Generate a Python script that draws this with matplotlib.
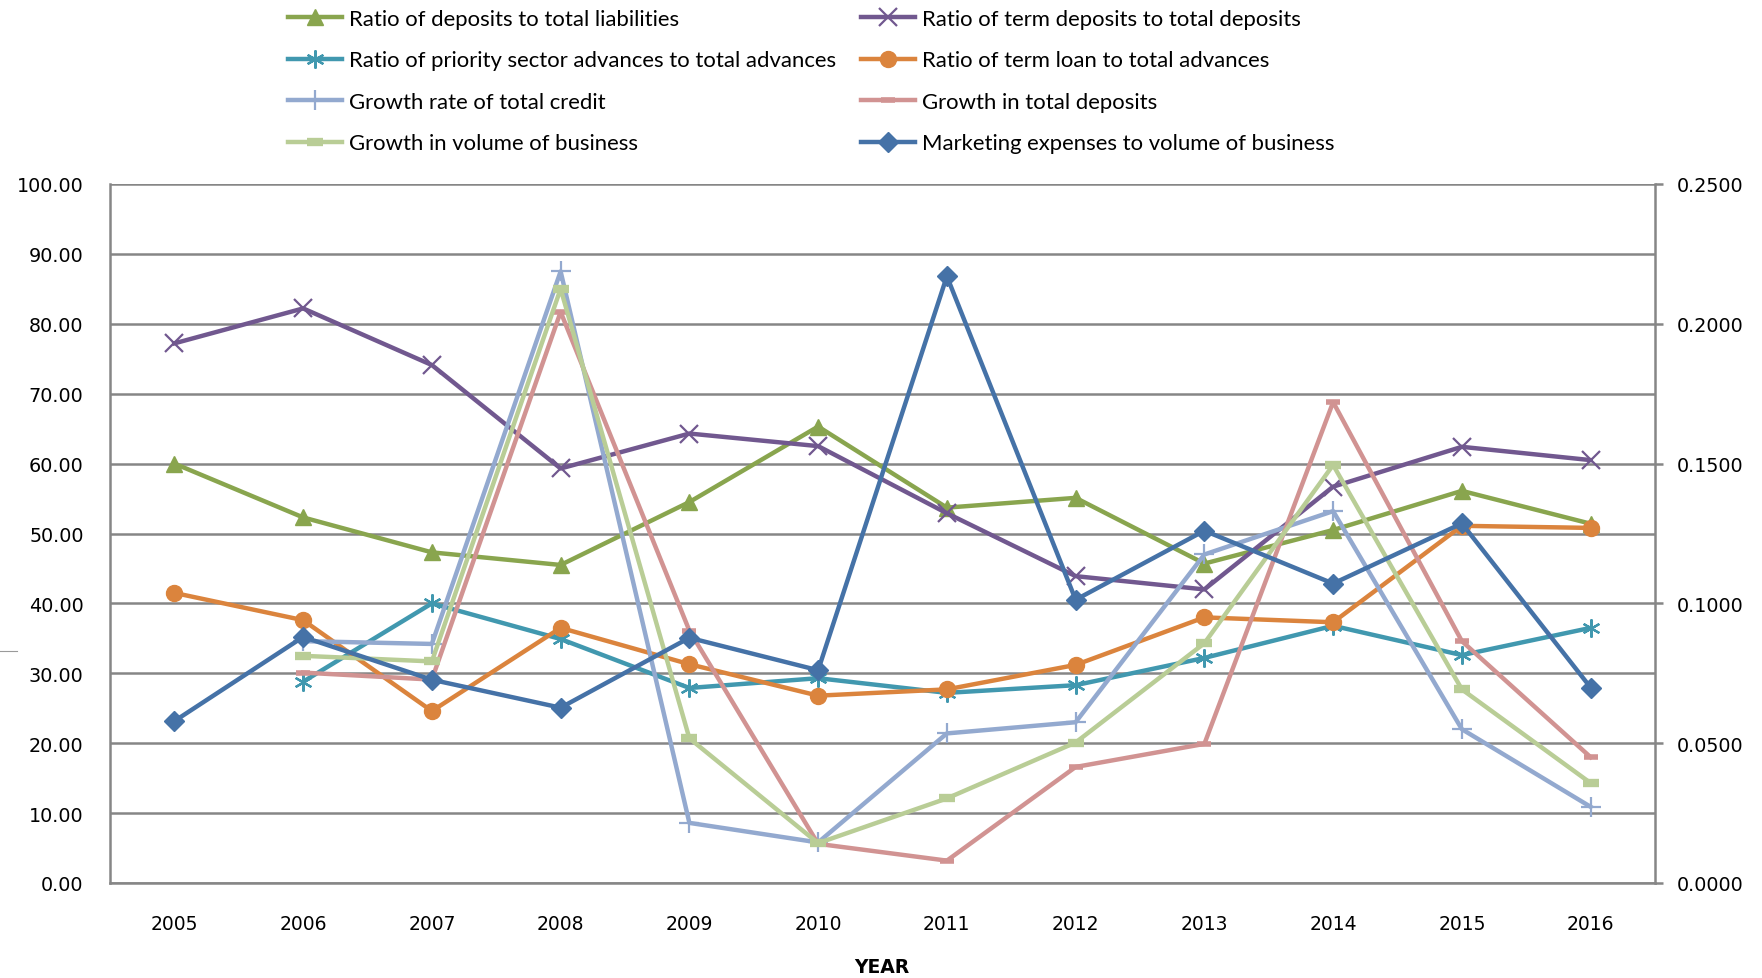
import numpy as np
import matplotlib
matplotlib.use("Agg")
import matplotlib.pyplot as plt
from matplotlib.lines import Line2D

years = ["2005", "2006", "2007", "2008", "2009", "2010",
         "2011", "2012", "2013", "2014", "2015", "2016"]

nan = np.nan
deposits_to_liabilities = [60.0, 52.3, 47.3, 45.5, 54.5, 65.3, 53.7, 55.1, 45.7, 50.5, 56.1, 51.4]
term_to_total_deposits = [77.2, 82.2, 74.1, 59.3, 64.3, 62.5, 52.9, 43.9, 42.0, 56.7, 62.4, 60.5]
priority_to_advances = [nan, 28.8, 40.0, 34.9, 27.9, 29.3, 27.2, 28.3, 32.2, 36.8, 32.6, 36.5]
term_loan_to_advances = [41.5, 37.6, 24.6, 36.5, 31.3, 26.8, 27.7, 31.2, 38.0, 37.3, 51.1, 50.8]
growth_total_credit = [nan, 34.6, 34.2, 87.5, 8.6, 5.8, 21.4, 23.0, 47.0, 53.2, 22.0, 10.9]
growth_total_deposits = [nan, 30.1, 29.1, 81.7, 36.1, 5.6, 3.2, 16.6, 19.9, 68.8, 34.6, 18.0]
growth_volume_business = [nan, 32.5, 31.7, 85.0, 20.7, 5.7, 12.1, 20.1, 34.3, 59.8, 27.7, 14.3]
marketing_to_volume = [0.0579, 0.0880, 0.0727, 0.0627, 0.0877, 0.0761,
                       0.2170, 0.1013, 0.1260, 0.1071, 0.1286, 0.0699]

GRID = "#868686"
W, H = 1762, 979

fig = plt.figure(figsize=(W / 100, H / 100), dpi=100)
ax = fig.add_axes([110 / W, 1 - 884 / H, (1655 - 110) / W, (884 - 185) / H])
x = np.arange(len(years))

lw = 3.2
style = dict(lw=lw, solid_joinstyle="round")

series = [
    ("Ratio of deposits to total liabilities", deposits_to_liabilities, "#89A54E",
     dict(marker="^", ms=12)),
    ("Ratio of term deposits to total deposits", term_to_total_deposits, "#71588F",
     dict(marker="x", ms=13, mew=1.6)),
    ("Ratio of priority sector advances to total advances", priority_to_advances, "#4198AF",
     dict(marker=(6, 2, 0), ms=13, mew=1.6)),
    ("Ratio of term loan to total advances", term_loan_to_advances, "#DB843D",
     dict(marker="o", ms=11.5)),
    ("Growth rate of total credit", growth_total_credit, "#93A9CF",
     dict(marker="+", ms=14, mew=1.6)),
    ("Growth in total deposits", growth_total_deposits, "#D19392",
     dict(marker="_", ms=10, mew=4)),
    ("Growth in volume of business", growth_volume_business, "#B9CD96",
     dict(marker="_", ms=12, mew=6)),
]

handles = {}
for label, vals, color, mk in series:
    h, = ax.plot(x, vals, color=color, label=label, zorder=3,
                 mfc=color, mec=color, **style, **mk)
    handles[label] = h

ax.set_xlim(-0.5, len(years) - 0.5)
ax.set_ylim(0, 100)
ax.set_yticks(np.arange(0, 101, 10))
ax.set_yticklabels([f"{v:.2f}" for v in np.arange(0, 101, 10)])
ax.set_xticks(x)
ax.set_xticklabels(years)
ax.yaxis.grid(True, color=GRID, lw=1.8)
ax.set_axisbelow(True)
for side in ("top", "right"):
    ax.spines[side].set_visible(False)
for side in ("left", "bottom"):
    ax.spines[side].set_color(GRID)
    ax.spines[side].set_linewidth(1.8)
ax.tick_params(axis="y", length=0, pad=19, labelsize=13.8, labelcolor="#000000")
ax.tick_params(axis="x", length=0, pad=22.5, labelsize=13.5)

ax2 = ax.twinx()
mk_line, = ax2.plot(x, marketing_to_volume, color="#4572A7", marker="D", ms=10,
                    mfc="#4572A7", mec="#4572A7", label="Marketing expenses to volume of business",
                    zorder=4, **style)
handles[mk_line.get_label()] = mk_line
ax2.set_ylim(0, 0.25)
ax2.set_yticks(np.arange(0, 0.2501, 0.05))
ax2.set_yticklabels([f"{v:.4f}" for v in np.arange(0, 0.2501, 0.05)])
for side in ("top", "left", "bottom"):
    ax2.spines[side].set_visible(False)
ax2.spines["right"].set_color(GRID)
ax2.spines["right"].set_linewidth(1.8)
ax2.tick_params(axis="y", direction="out", length=6, width=1.8, color=GRID,
                pad=10, labelsize=13.8)

fig.text(882 / W, 1 - 968 / H, "YEAR", ha="center", va="center",
         fontsize=13.5, fontweight="bold")

# short stray rule at the far left edge
fig.add_artist(Line2D([0 / W, 17 / W], [1 - 652 / H, 1 - 652 / H],
                      color="#9a9a9a", lw=0.8, transform=fig.transFigure))

col1 = ["Ratio of deposits to total liabilities",
        "Ratio of priority sector advances to total advances",
        "Growth rate of total credit",
        "Growth in volume of business"]
col2 = ["Ratio of term deposits to total deposits",
        "Ratio of term loan to total advances",
        "Growth in total deposits",
        "Marketing expenses to volume of business"]

leg_kw = dict(loc="upper left", frameon=False, handlelength=2.45, handletextpad=0.3,
              labelspacing=0.97, borderaxespad=0, borderpad=0,
              prop={"family": "Lato", "size": 15.9})
leg1 = fig.legend([handles[k] for k in col1], col1,
                  bbox_to_anchor=(288 / W, 1 - 10 / H), **leg_kw)
leg2 = fig.legend([handles[k] for k in col2], col2,
                  bbox_to_anchor=(861 / W, 1 - 10 / H), **leg_kw)

fig.savefig("out.png", dpi=100)
